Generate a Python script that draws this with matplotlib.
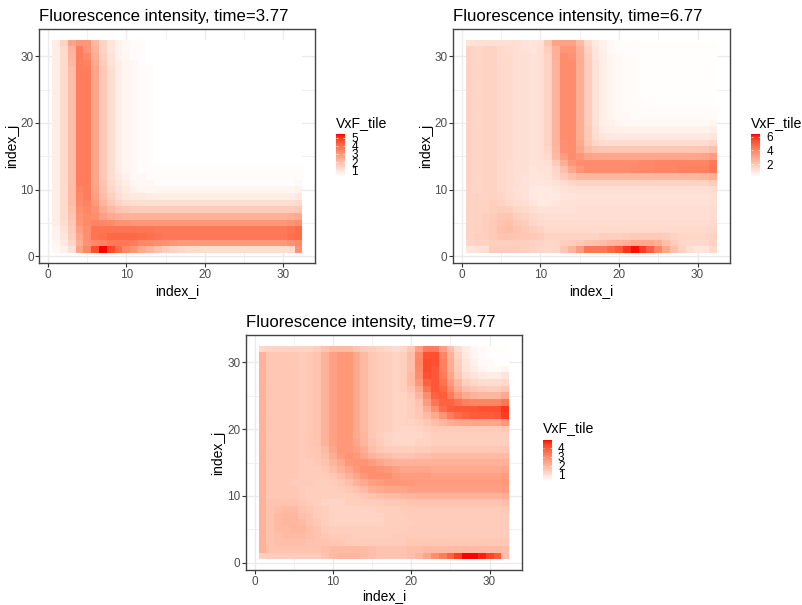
#!/usr/bin/env python3
"""Three fluorescence heat maps (32 x 32 tiles) with their colour bars."""

import numpy as np
import matplotlib
matplotlib.use("Agg")
import matplotlib.pyplot as plt  # noqa: E402
from matplotlib.colors import ListedColormap, Normalize  # noqa: E402

plt.rcParams["font.family"] = ["Liberation Sans", "DejaVu Sans"]

# ── Data: VxF x 10, rows from index_j = 32 down to 1, columns index_i = 1..32 ──
index_i = np.arange(1, 33)
index_j = np.arange(32, 0, -1)

vxf_377 = [
    [7,14,27,30,30,21,14,9,6,4,3,3,2,2,2,2,2,2,2,2,2,2,2,2,2,2,2,2,2,2,2,2],
    [7,12,23,36,30,23,14,9,6,4,3,3,2,2,2,2,2,2,2,2,2,2,2,2,2,2,2,2,2,2,2,2],
    [7,12,22,36,33,24,15,10,6,5,3,3,2,2,2,2,2,2,2,2,2,2,2,2,2,2,2,2,2,2,2,2],
    [7,12,21,36,35,25,16,10,7,5,4,3,2,2,2,2,2,2,2,2,2,2,2,2,2,2,2,2,2,2,2,2],
    [7,12,20,36,36,26,17,11,7,5,4,3,3,2,2,2,2,2,2,2,2,2,2,2,2,2,2,2,2,2,2,2],
    [7,12,20,36,36,26,17,11,7,5,4,3,3,2,2,2,2,2,2,2,2,2,2,2,2,2,2,2,2,2,2,2],
    [7,12,20,36,36,26,17,11,7,5,4,3,3,2,2,2,2,2,2,2,2,2,2,2,2,2,2,2,2,2,2,2],
    [7,12,20,36,36,26,17,11,7,5,4,3,3,2,2,2,2,2,2,2,2,2,2,2,2,2,2,2,2,2,2,2],
    [7,12,20,36,36,26,17,11,7,5,4,3,3,2,2,2,2,2,2,2,2,2,2,2,2,2,2,2,2,2,2,2],
    [7,12,20,36,36,26,17,11,7,5,4,3,3,2,2,2,2,2,2,2,2,2,2,2,2,2,2,2,2,2,2,2],
    [7,12,20,36,36,26,17,11,7,5,4,3,3,2,2,2,2,2,2,2,2,2,2,2,2,2,2,2,2,2,2,2],
    [7,12,20,36,36,26,17,11,7,5,4,3,3,2,2,2,2,2,2,2,2,2,2,2,2,2,2,2,2,2,2,2],
    [7,12,20,36,36,26,17,11,7,5,4,3,3,2,2,2,2,2,2,2,2,2,2,2,2,2,2,2,2,2,2,2],
    [7,12,20,36,36,26,17,11,7,5,4,3,3,2,2,2,2,2,2,2,2,2,2,2,2,2,2,2,2,2,2,2],
    [7,12,20,36,36,26,17,11,7,5,4,3,3,2,2,2,2,2,2,2,2,2,2,2,2,2,2,2,2,2,2,2],
    [7,12,20,36,36,26,17,11,7,5,4,3,3,2,2,2,2,2,2,2,2,2,2,2,2,2,2,2,2,2,2,2],
    [7,12,20,36,36,26,17,11,7,5,4,3,3,2,2,2,2,2,2,2,2,2,2,2,2,2,2,2,2,2,2,2],
    [7,12,20,36,36,26,17,11,7,5,4,3,3,2,2,2,2,2,2,2,2,2,2,2,2,2,2,2,2,2,2,2],
    [7,12,20,36,36,26,17,11,7,5,4,3,3,2,2,2,2,2,2,2,2,2,2,2,2,2,2,2,2,2,2,2],
    [7,12,20,36,36,26,17,11,7,5,4,3,3,3,3,3,3,3,3,3,3,3,3,3,3,3,3,3,3,3,3,3],
    [7,12,20,36,36,26,17,11,8,6,4,4,3,3,3,3,3,3,3,3,3,3,3,3,3,3,3,3,3,3,3,3],
    [7,12,20,36,36,26,18,12,9,7,5,4,4,3,3,3,3,3,3,3,3,3,3,3,3,3,3,3,3,3,3,4],
    [7,12,20,35,36,27,19,13,10,8,6,5,5,5,5,5,5,5,5,5,5,5,5,5,5,5,5,5,5,5,5,6],
    [7,12,20,34,36,28,20,15,11,9,8,8,7,7,7,7,7,7,7,7,7,7,7,7,7,7,7,7,7,7,7,8],
    [7,12,20,33,35,29,22,17,14,12,11,11,11,11,11,11,11,11,11,11,11,11,11,11,11,11,11,11,11,11,11,12],
    [7,12,19,32,34,31,25,21,18,17,16,16,16,16,16,16,16,16,16,16,16,16,16,16,16,16,16,16,16,16,16,17],
    [7,12,18,31,33,32,28,25,24,23,23,23,23,23,23,23,23,23,23,23,23,23,23,23,23,23,23,23,23,23,24,25],
    [7,11,17,30,33,35,34,33,31,31,30,30,30,30,30,30,30,30,30,30,30,30,30,30,30,30,30,30,30,30,31,32],
    [6,10,16,28,32,38,38,38,38,38,38,38,38,37,37,37,37,37,37,37,37,37,37,37,37,37,37,37,37,37,38,40],
    [6,9,15,26,32,38,39,41,41,41,41,40,39,38,37,37,37,37,37,37,37,37,37,37,37,37,37,37,37,37,39,40],
    [5,8,13,24,31,34,35,37,37,37,36,34,33,32,31,30,29,29,29,29,29,29,29,29,29,29,29,29,29,29,31,33],
    [4,6,10,27,34,46,54,47,40,34,30,25,22,19,16,14,13,12,12,11,11,11,11,11,11,11,11,11,11,11,11,31],
]

vxf_677 = [
    [11,12,12,12,12,12,12,11,10,11,20,31,32,32,24,14,9,6,4,3,2,2,2,2,2,2,2,2,2,2,2,2],
    [16,15,16,16,14,13,12,11,10,12,17,27,35,35,27,16,10,6,4,3,3,2,2,2,2,2,2,2,2,2,2,2],
    [16,15,16,16,14,14,12,12,11,12,16,27,38,36,28,17,10,7,5,4,3,3,2,2,2,2,2,2,2,2,2,2],
    [16,15,16,16,14,14,12,12,11,12,16,26,38,38,28,18,11,7,5,4,3,3,2,2,2,2,2,2,2,2,2,2],
    [16,15,16,16,14,14,12,12,11,12,16,26,38,38,28,18,11,7,5,4,3,3,2,2,2,2,2,2,2,2,2,2],
    [16,15,16,16,14,14,12,12,11,12,16,26,38,38,28,18,11,7,5,4,3,3,2,2,2,2,2,2,2,2,2,2],
    [16,15,16,16,14,14,12,12,11,12,16,26,38,38,28,18,11,7,5,4,3,3,2,2,2,2,2,2,2,2,2,2],
    [16,15,16,16,14,14,12,12,11,12,16,26,38,38,28,18,11,7,5,4,3,3,2,2,2,2,2,2,2,2,2,2],
    [16,15,16,16,14,14,12,12,11,12,16,26,38,38,28,18,11,7,5,4,3,3,2,2,2,2,2,2,2,2,2,2],
    [16,15,16,16,14,14,12,12,11,12,16,26,38,38,28,18,11,7,5,4,3,3,3,2,2,2,2,2,2,2,2,2],
    [16,15,16,16,14,14,12,12,11,12,16,26,38,38,28,18,11,7,5,4,3,3,3,3,3,3,3,3,3,3,3,3],
    [16,15,16,16,14,14,12,12,11,12,16,26,38,38,28,18,11,7,5,4,4,3,3,3,3,3,3,3,3,3,3,3],
    [16,15,16,16,14,14,12,12,11,12,16,26,38,38,28,18,11,7,6,5,4,4,4,4,4,4,4,4,4,4,4,5],
    [16,15,16,16,14,14,12,12,11,12,16,26,38,38,28,19,12,8,7,6,6,6,6,6,6,6,6,6,6,6,6,7],
    [16,15,16,16,14,14,12,12,11,12,16,26,38,38,28,19,13,10,9,9,9,9,9,9,9,9,9,9,9,9,9,10],
    [16,15,16,16,14,14,12,12,11,12,16,26,37,38,29,20,15,13,13,13,13,13,13,13,13,13,13,13,13,13,13,15],
    [16,15,16,16,14,14,12,12,11,12,15,25,37,38,30,23,21,20,20,20,20,20,20,20,20,20,20,20,20,20,20,22],
    [16,15,16,16,14,14,12,12,11,12,14,24,33,38,35,31,30,30,30,30,30,30,30,30,30,30,30,30,30,30,31,33],
    [16,15,16,16,14,13,12,12,11,11,12,18,28,35,38,38,38,38,38,38,38,38,39,39,40,40,40,40,40,40,40,43],
    [16,15,16,16,14,13,12,12,10,11,11,15,22,30,35,38,38,38,38,38,38,39,39,39,40,40,40,41,41,41,41,44],
    [16,15,16,16,14,13,12,11,10,10,11,14,18,22,25,25,25,25,25,25,25,25,25,25,25,25,25,25,25,25,26,28],
    [16,15,16,16,14,13,12,11,10,10,10,11,13,15,16,16,16,16,16,16,16,16,16,16,16,16,16,16,16,16,16,18],
    [16,15,16,16,14,13,11,11,9,9,9,10,11,12,12,12,12,12,12,12,12,12,12,12,12,12,12,12,12,12,12,13],
    [16,16,16,16,15,13,12,11,9,9,9,9,10,10,11,11,11,11,11,11,11,11,11,11,11,11,11,11,11,11,11,12],
    [16,16,16,17,16,14,13,12,10,9,9,10,11,11,11,11,11,11,11,11,11,11,11,11,11,11,11,11,11,11,11,12],
    [16,16,16,17,18,17,15,14,12,11,11,11,11,11,12,12,12,12,12,12,12,12,12,12,12,12,12,12,12,12,12,13],
    [16,16,17,18,20,20,17,16,14,13,12,12,12,12,12,12,12,12,12,12,12,12,12,12,12,12,12,12,12,12,12,13],
    [16,16,17,19,21,22,19,18,15,14,13,13,13,13,13,13,13,13,13,13,13,13,13,13,13,13,13,13,13,13,13,14],
    [16,16,17,19,22,23,21,19,17,16,14,14,14,14,14,14,14,14,14,14,14,14,14,14,14,14,14,14,14,14,14,15],
    [16,17,17,19,21,21,20,20,19,18,16,16,16,16,16,16,16,17,17,17,18,19,19,19,19,18,16,15,15,15,15,16],
    [15,16,16,17,17,17,17,17,16,16,15,15,17,18,19,21,22,23,25,26,27,29,29,29,27,22,18,15,14,14,14,16],
    [10,11,12,18,18,18,18,17,16,15,14,15,20,26,33,44,44,44,48,52,59,63,57,50,40,30,22,16,12,10,10,14],
]

vxf_977 = [
    [12,13,13,13,13,13,13,14,17,19,19,19,17,15,14,13,12,11,12,16,25,33,33,25,18,11,7,5,4,3,3,3],
    [21,16,16,16,16,15,16,17,21,25,27,27,23,19,16,15,14,13,14,18,30,41,41,31,21,13,8,5,4,3,3,3],
    [21,16,16,16,16,15,16,17,21,25,27,27,23,19,16,15,14,13,14,18,31,42,41,32,22,14,9,6,4,4,3,3],
    [21,16,16,16,16,15,16,17,21,25,27,27,23,19,16,15,14,13,14,18,30,42,40,32,22,15,9,7,5,4,4,5],
    [21,16,16,16,16,15,16,17,21,25,27,27,23,19,16,15,14,13,14,19,29,41,40,33,24,16,11,9,8,7,7,9],
    [21,16,16,16,16,15,16,17,21,25,27,27,23,19,16,15,14,13,14,19,27,38,40,35,26,20,14,12,11,11,11,12],
    [21,16,16,16,16,15,16,17,21,25,27,27,23,19,16,15,14,13,14,17,23,34,40,37,29,22,18,16,15,14,14,16],
    [21,16,16,16,16,15,16,17,21,25,27,27,23,19,16,15,14,13,13,15,20,29,38,39,33,27,23,21,20,20,20,23],
    [21,16,16,16,16,15,16,17,21,25,27,27,23,19,16,15,14,13,13,14,17,26,34,38,38,35,32,31,31,31,31,34],
    [21,16,16,16,16,15,16,17,21,25,27,27,23,19,16,15,14,13,13,14,16,22,29,36,39,40,40,40,41,41,41,45],
    [21,16,16,16,16,15,16,17,21,25,27,27,23,19,16,15,14,13,13,14,16,19,23,28,33,36,38,39,39,39,40,44],
    [21,16,16,16,16,15,16,17,21,25,27,27,23,19,16,15,14,13,13,13,14,16,18,20,22,23,24,24,24,24,24,27],
    [21,16,16,16,16,15,16,17,21,25,27,27,23,19,16,15,14,13,12,12,13,14,15,15,15,15,15,15,15,15,15,16],
    [21,16,16,16,16,15,16,17,21,25,27,27,23,20,16,14,13,12,12,12,12,13,14,14,14,14,14,14,14,14,14,14],
    [21,16,16,16,16,15,16,17,21,25,27,27,24,20,17,15,13,12,12,12,13,13,14,14,14,14,14,14,14,14,14,14],
    [21,16,16,16,16,15,16,16,19,24,27,27,25,22,18,16,15,14,14,14,15,15,16,16,16,16,16,16,16,16,16,16],
    [21,16,16,16,16,15,16,16,18,22,26,28,27,24,21,19,18,17,17,17,18,18,19,19,19,19,19,19,19,19,19,19],
    [21,16,16,16,16,15,15,16,17,20,23,27,28,28,26,24,22,21,21,21,21,21,21,21,21,21,21,21,21,21,21,21],
    [21,16,16,16,16,15,15,15,16,18,21,24,27,29,29,28,27,25,24,24,24,24,23,23,23,23,23,23,23,23,23,24],
    [21,16,16,16,16,15,15,15,15,16,18,21,24,27,29,29,29,27,26,26,26,26,25,25,25,25,25,25,25,25,25,26],
    [21,16,16,16,15,15,15,14,14,15,16,18,21,23,25,26,27,27,27,27,26,26,26,26,26,26,26,26,26,26,26,27],
    [21,16,16,16,16,15,14,14,14,14,15,16,17,19,22,23,24,24,24,25,25,25,25,25,25,25,25,25,25,25,25,26],
    [21,16,16,16,16,15,14,14,14,14,14,14,15,16,17,18,19,19,20,20,21,21,21,21,21,21,21,21,21,21,21,22],
    [21,17,17,17,17,16,15,14,13,13,13,14,14,14,15,15,16,16,16,17,17,17,17,17,17,17,17,17,17,17,17,18],
    [21,17,18,19,19,17,16,15,14,13,13,13,13,13,13,14,14,14,15,15,15,15,15,15,15,15,15,15,15,15,15,16],
    [21,17,19,20,20,18,17,15,14,13,13,13,13,13,13,13,14,14,14,15,15,15,15,15,15,15,15,15,15,15,15,15],
    [21,17,19,20,20,19,17,16,14,13,13,13,13,13,13,13,14,14,14,14,15,15,15,15,15,15,15,15,15,15,15,15],
    [21,17,19,19,20,20,18,17,15,14,14,14,14,14,14,14,14,14,14,15,15,15,15,15,15,15,15,15,15,15,15,15],
    [21,17,18,19,19,19,18,17,16,15,15,15,14,14,14,14,14,15,15,15,15,15,15,15,15,15,15,15,15,15,15,15],
    [21,17,18,18,18,18,17,17,17,16,16,15,15,15,15,15,15,15,15,16,16,16,16,16,16,16,16,16,16,16,16,16],
    [21,17,17,17,17,17,17,17,18,19,19,19,19,19,18,17,17,17,17,18,18,19,19,19,19,19,19,19,19,19,19,18],
    [14,15,15,15,15,15,15,15,17,19,20,20,20,19,18,17,17,17,17,18,20,24,29,33,38,44,49,49,47,43,39,18],
]

times = ["3.77", "6.77", "9.77"]
fill_limits = [(0.2, 5.4), (0.15, 6.35), (0.25, 4.85)]
fill_breaks = [[1, 2, 3, 4, 5], [2, 4, 6], [1, 2, 3, 4]]
grids = [vxf_377, vxf_677, vxf_977]

# ── Layout in pixels: left, top, right, bottom of each panel, then the bar ──
W, H = 803, 605
panels = [(39.5, 29, 315, 263.5), (453.3, 29, 729.7, 263.5), (246, 335, 521.7, 570)]
bars = [(336, 134.3, 345, 176.7), (751, 134.3, 760, 176.7), (542.7, 440, 551.7, 481.7)]
xlabel_pads = [2, 2, 0.8]


def lab_white_to_red(n=256):
    # ggplot style gradient: straight line in Lab from white to red
    t = np.linspace(0, 1, n)
    L = 100 + (53.24 - 100) * t
    a = 80.09 * t
    b = 67.20 * t
    fy = (L + 16) / 116
    f = np.stack([fy + a / 500, fy, fy - b / 200], axis=1)
    xyz = np.where(f > 6 / 29, f**3, 3 * (6 / 29) ** 2 * (f - 4 / 29))
    xyz *= [0.95047, 1.0, 1.08883]
    m = [[3.2406, -1.5372, -0.4986], [-0.9689, 1.8758, 0.0415], [0.0557, -0.2040, 1.0570]]
    rgb = np.clip(xyz @ np.array(m).T, 0, 1)
    rgb = np.where(rgb > 0.0031308, 1.055 * rgb ** (1 / 2.4) - 0.055, 12.92 * rgb)
    return ListedColormap(np.clip(rgb, 0, 1))


def px_axes(fig, box, **kw):
    l, t, r, b = box
    return fig.add_axes([l / W, 1 - b / H, (r - l) / W, (b - t) / H], **kw)


cmap = lab_white_to_red()
fig = plt.figure(figsize=(W / 100, H / 100), dpi=100)

edges_i = np.append(index_i - 0.5, index_i[-1] + 0.5)
edges_j = np.append(index_j + 0.5, index_j[-1] - 0.5)
for grid, time_s, lims, brks, box, bar, xpad in zip(grids, times, fill_limits, fill_breaks, panels, bars, xlabel_pads):
    rows = np.array(grid, dtype=float) / 10
    norm = Normalize(*lims)

    ax = px_axes(fig, box)
    ax.set_axisbelow(True)
    ax.pcolormesh(edges_i, edges_j, rows, cmap=cmap, norm=norm, zorder=2)
    ax.set_xlim(-1.1, 34.1)
    ax.set_ylim(-1.1, 34.1)
    ax.set_xticks([0, 10, 20, 30])
    ax.set_yticks([0, 10, 20, 30])
    ax.set_xticks([5, 15, 25], minor=True)
    ax.set_yticks([5, 15, 25], minor=True)
    ax.grid(which="major", color="#EBEBEB", lw=1.0)
    ax.grid(which="minor", color="#EBEBEB", lw=0.5)
    ax.tick_params(which="minor", length=0)
    ax.tick_params(which="major", length=2.6, width=0.8, color="#333333",
                   labelcolor="#4D4D4D", labelsize=8.45, pad=1.6)
    for s in ax.spines.values():
        s.set_color("#444444")
        s.set_linewidth(1.0)
    ax.set_title(f"Fluorescence intensity, time={time_s}", loc="left", fontsize=12.05, pad=6, color="black")
    ax.set_xlabel("index_i", fontsize=10.0, labelpad=xpad)
    ax.set_ylabel("index_j", fontsize=10.0)
    # label sits close enough to touch the "20" tick label, as in the original
    ax.yaxis.set_label_coords(-20.5 / (box[2] - box[0]), 0.5)

    # colour bar
    cax = px_axes(fig, bar)
    levels = np.linspace(lims[0], lims[1], 200)[:, None]
    cax.pcolormesh([0, 1], np.linspace(lims[0], lims[1], 201), levels, cmap=cmap, norm=norm)
    cax.set_xlim(0, 1)
    cax.set_ylim(*lims)
    cax.set_xticks([])
    cax.yaxis.tick_right()
    cax.set_yticks(brks)
    cax.tick_params(axis="y", length=0, labelsize=8.45, pad=4.5, labelcolor="black")
    cax.hlines(brks, 0, 0.2, color="white", lw=0.5)
    cax.hlines(brks, 0.8, 1, color="white", lw=0.5)
    for s in cax.spines.values():
        s.set_visible(False)
    fig.text(bar[0] / W, 1 - (bar[1] - 11.5) / H, "VxF_tile", fontsize=10.2, va="center", ha="left")

fig.savefig("out.png", dpi=100)
